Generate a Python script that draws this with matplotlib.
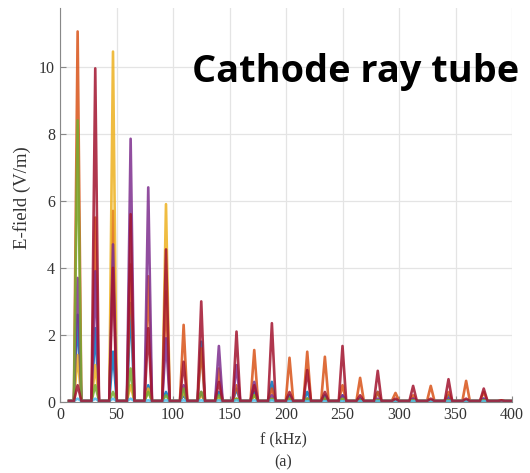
import matplotlib
matplotlib.use('Agg')
import matplotlib.pyplot as plt
import numpy as np

# --- Dados ---
HARMONICS_KHZ = [15.6, 31.2, 46.9, 62.5, 78.1, 93.8, 109.4, 125.0, 140.6, 156.2,
                 171.9, 187.5, 203.1, 218.8, 234.4, 250.0, 265.6, 281.2, 296.9,
                 312.5, 328.1, 343.8, 359.4, 375.0, 390.6]

# amplitude de pico (V/m) de cada curva em cada harmonico
blue_peaks = [2.6, 2.2, 1.5, 2.95, 0.5, 0.3, 0.2, 1.8, 0.3, 0.4, 0.3, 0.6, 0.2,
              0.3, 0.2, 0.2, 0.1, 0.3, 0.05, 0.1, 0.05, 0.2, 0.05, 0.1, 0.02]
orange_peaks = [11.05, 5.5, 5.7, 4.1, 3.75, 3.3, 2.3, 1.6, 1.0, 0.5, 1.55, 0.4,
                1.32, 1.5, 1.35, 0.5, 0.72, 0.3, 0.27, 0.2, 0.48, 0.3, 0.63, 0.3, 0.05]
yellow_peaks = [1.4, 1.1, 10.45, 0.5, 0.4, 5.9, 0.3, 0.2, 0.1, 0.1, 0.2, 0.1,
                0.1, 0.1, 0.1, 0.1, 0.05, 0.05, 0.05, 0.05, 0.05, 0.05, 0.05, 0.05, 0.02]
purple_peaks = [3.7, 3.9, 4.7, 7.85, 6.4, 1.9, 0.5, 0.3, 1.67, 1.1, 0.6, 0.2,
                0.1, 0.1, 0.1, 0.2, 0.05, 0.1, 0.05, 0.1, 0.05, 0.1, 0.05, 0.1, 0.02]
green_peaks = [8.4, 0.5, 0.3, 1.0, 0.3, 0.2, 0.4, 0.3, 0.2, 0.1, 0.2, 0.1,
               0.1, 0.1, 0.1, 0.1, 0.05, 0.05, 0.05, 0.05, 0.05, 0.05, 0.05, 0.05, 0.02]
lightblue_peaks = [0.1, 0.1, 0.1, 0.1, 0.05, 0.05, 0.05, 0.05, 0.05, 0.05, 0.05, 0.05,
                   0.02, 0.02, 0.02, 0.02, 0.02, 0.02, 0.02, 0.02, 0.02, 0.02, 0.02, 0.02, 0.02]
darkred_peaks = [0.5, 9.95, 4.0, 5.6, 2.2, 4.55, 1.2, 3.0, 0.6, 2.1, 0.5, 2.35,
                 0.3, 0.95, 0.3, 1.67, 0.2, 0.93, 0.1, 0.48, 0.1, 0.68, 0.1, 0.4, 0.05]

SERIES = [
    ('#0072BD', blue_peaks),
    ('#D95319', orange_peaks),
    ('#EDB120', yellow_peaks),
    ('#7E2F8E', purple_peaks),
    ('#77AC30', green_peaks),
    ('#4DBEEE', lightblue_peaks),
    ('#A2142F', darkred_peaks),
]

F_START = 8.0
F_END = 400.0
HALF_WIDTH = 3.3  # meia largura da base de cada pico (kHz)
FLOOR = 0.03


def build_line(peaks):
    """Monta a curva do espectro a partir dos picos."""
    xs = [F_START]
    ys = [FLOOR]
    for f, a in zip(HARMONICS_KHZ, peaks):
        xs += [f - HALF_WIDTH, f, f + HALF_WIDTH]
        ys += [FLOOR, a, FLOOR]
    xs.append(F_END)
    ys.append(FLOOR)
    return xs, ys


fig = plt.figure(figsize=(5.3, 4.73), dpi=100)
ax = fig.add_axes([60 / 530, 71 / 473, 452 / 530, 394 / 473])

for color, peaks in SERIES:
    xs, ys = build_line(peaks)
    ax.plot(xs, ys, color=color, lw=1.9, alpha=0.85)

ax.set_xlim(0, 400)
ax.set_ylim(0, 11.75)
ax.set_xticks(np.arange(0, 401, 50))
ax.set_yticks([0, 2, 4, 6, 8, 10])
ax.grid(True, color='#e4e4e4', lw=0.9)
ax.set_axisbelow(True)
for s in ['top', 'right']:
    ax.spines[s].set_visible(False)
for s in ['left', 'bottom']:
    ax.spines[s].set_color('#888888')
ax.tick_params(direction='in', length=4, color='#888888', labelcolor='#333333',
               labelsize=11.5)
for lab in ax.get_xticklabels() + ax.get_yticklabels():
    lab.set_fontfamily('Liberation Serif')

fig.text(22 / 530, 1 - 198 / 473, 'E-field (V/m)', rotation=90, ha='center',
         va='center', family='Liberation Serif', fontsize=13.5, color='#333333')
fig.text(283 / 530, 1 - 439 / 473, 'f (kHz)', ha='center', va='center',
         family='Liberation Serif', fontsize=11.5, color='#333333')
fig.text(283 / 530, 1 - 462 / 473, '(a)', ha='center', va='center',
         family='Liberation Serif', fontsize=11.5, color='#333333')
fig.text(192 / 530, 1 - 82 / 473, 'Cathode ray tube', ha='left', va='baseline',
         family='Open Sans', fontweight='bold', fontsize=27.3, color='black')

fig.savefig('out.png', dpi=100)
